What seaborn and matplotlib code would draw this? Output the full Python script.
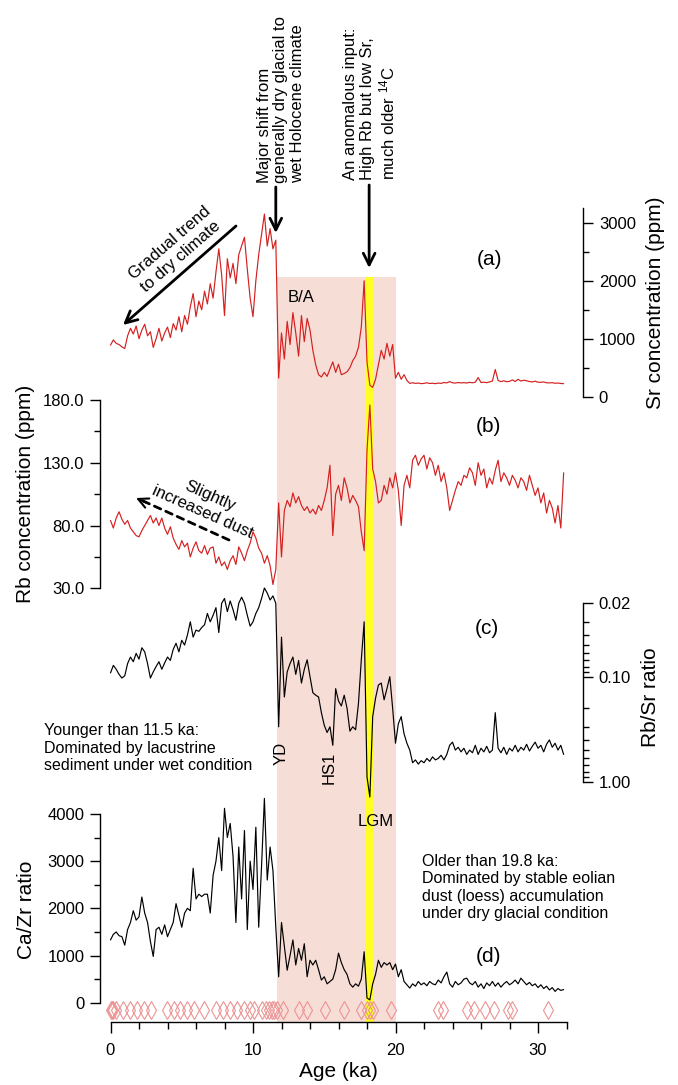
import numpy as np
import pandas as pd
import matplotlib
matplotlib.use("Agg")
import matplotlib.pyplot as plt
import seaborn as sns
from matplotlib.ticker import FixedLocator, FormatStrFormatter, NullFormatter

# ---------------- data ----------------
age = [0.0, 0.2, 0.4, 0.6, 0.8, 1.0, 1.2, 1.4, 1.6, 1.8,
       2.0, 2.2, 2.4, 2.6, 2.8, 3.0, 3.2, 3.4, 3.6, 3.8,
       4.0, 4.2, 4.4, 4.6, 4.8, 5.0, 5.2, 5.4, 5.6, 5.8,
       6.0, 6.2, 6.4, 6.6, 6.8, 7.0, 7.2, 7.4, 7.6, 7.8,
       8.0, 8.2, 8.4, 8.6, 8.8, 9.0, 9.2, 9.4, 9.6, 9.8,
       10.0, 10.2, 10.4, 10.6, 10.8, 11.0, 11.2, 11.4, 11.6, 11.8,
       12.0, 12.2, 12.4, 12.6, 12.8, 13.0, 13.2, 13.4, 13.6, 13.8,
       14.0, 14.2, 14.4, 14.6, 14.8, 15.0, 15.2, 15.4, 15.6, 15.8,
       16.0, 16.2, 16.4, 16.6, 16.8, 17.0, 17.2, 17.4, 17.6, 17.8,
       18.0, 18.2, 18.4, 18.6, 18.8, 19.0, 19.2, 19.4, 19.6, 19.8,
       20.0, 20.2, 20.4, 20.6, 20.8, 21.0, 21.2, 21.4, 21.6, 21.8,
       22.0, 22.2, 22.4, 22.6, 22.8, 23.0, 23.2, 23.4, 23.6, 23.8,
       24.0, 24.2, 24.4, 24.6, 24.8, 25.0, 25.2, 25.4, 25.6, 25.8,
       26.0, 26.2, 26.4, 26.6, 26.8, 27.0, 27.2, 27.4, 27.6, 27.8,
       28.0, 28.2, 28.4, 28.6, 28.8, 29.0, 29.2, 29.4, 29.6, 29.8,
       30.0, 30.2, 30.4, 30.6, 30.8, 31.0, 31.2, 31.4, 31.6, 31.8]

sr = [890, 980, 920, 900, 860, 830, 1050, 1180, 1080, 1220,
      1000, 1150, 1250, 1050, 1120, 850, 1000, 1180, 960, 1100,
      1200, 1020, 1260, 1150, 1380, 1120, 1400, 1250, 1550, 1780,
      1380, 1650, 1500, 1820, 1600, 1950, 1700, 2150, 2550, 2100,
      1400, 2380, 2050, 2300, 1950, 2450, 2600, 2750, 2200, 1700,
      1380, 2000, 2450, 2800, 3150, 2600, 2900, 2550, 2700, 320,
      1100, 650, 1300, 900, 1450, 1100, 700, 1400, 950, 1350,
      1150, 800, 550, 380, 340, 420, 350, 480, 600, 420,
      560, 380, 400, 430, 500, 620, 700, 850, 1200, 2000,
      600, 200, 160, 300, 550, 800, 650, 920, 700, 900,
      320, 420, 300, 380, 280, 230, 240, 230, 235, 225,
      230, 240, 228, 232, 225, 235, 230, 245, 238, 260,
      240, 235, 245, 238, 242, 236, 248, 240, 250, 330,
      245, 250, 242, 255, 270, 470, 280, 260, 275, 258,
      265, 290, 262, 300, 270, 285, 275, 262, 255, 268,
      250, 248, 255, 240, 238, 242, 232, 236, 228, 225]

rb = [84, 78, 86, 91, 85, 81, 84, 78, 75, 72,
      71, 76, 80, 84, 88, 82, 86, 80, 86, 78,
      73, 79, 70, 65, 61, 68, 63, 66, 55, 62,
      67, 60, 58, 64, 57, 62, 63, 50, 55, 48,
      51, 45, 52, 56, 49, 63, 58, 52, 60, 66,
      75, 70, 62, 58, 50, 56, 48, 33, 45, 98,
      55, 92, 100, 95, 106, 98, 103, 96, 92, 95,
      90, 93, 89, 96, 92, 100, 110, 128, 72, 105,
      112, 100, 118, 110, 98, 104, 100, 95, 75, 60,
      140, 176, 125, 115, 98, 100, 112, 105, 118, 110,
      122, 108, 80, 112, 120, 110, 132, 136, 128, 133,
      136, 125, 134, 130, 120, 128, 115, 122, 110, 92,
      100, 108, 115, 112, 120, 118, 126, 122, 112, 130,
      120, 125, 110, 118, 113, 124, 132, 115, 122, 118,
      112, 120, 116, 110, 118, 115, 108, 120, 112, 104,
      110, 98, 106, 90, 100, 94, 82, 96, 78, 122]

rbsr = [0.092, 0.078, 0.085, 0.095, 0.103, 0.098, 0.075, 0.065, 0.072, 0.060,
        0.068, 0.053, 0.058, 0.075, 0.103, 0.090, 0.080, 0.072, 0.085, 0.074,
        0.065, 0.070, 0.055, 0.048, 0.058, 0.045, 0.050, 0.040, 0.030, 0.042,
        0.036, 0.037, 0.034, 0.032, 0.025, 0.030, 0.026, 0.022, 0.038, 0.020,
        0.018, 0.024, 0.019, 0.023, 0.029, 0.020, 0.0175, 0.020, 0.026, 0.033,
        0.030, 0.025, 0.022, 0.018, 0.0143, 0.016, 0.0186, 0.017, 0.020, 0.30,
        0.042, 0.156, 0.090, 0.075, 0.065, 0.095, 0.070, 0.115, 0.085, 0.069,
        0.100, 0.142, 0.150, 0.156, 0.22, 0.29, 0.34, 0.30, 0.45, 0.13,
        0.17, 0.19, 0.15, 0.20, 0.33, 0.30, 0.32, 0.18, 0.069, 0.030,
        0.90, 1.40, 0.24, 0.16, 0.12, 0.115, 0.166, 0.13, 0.10, 0.20,
        0.43, 0.28, 0.24, 0.35, 0.43, 0.50, 0.66, 0.62, 0.68, 0.63,
        0.66, 0.60, 0.64, 0.58, 0.62, 0.60, 0.56, 0.62, 0.55, 0.45,
        0.42, 0.50, 0.47, 0.52, 0.48, 0.55, 0.50, 0.53, 0.45, 0.55,
        0.48, 0.52, 0.46, 0.53, 0.50, 0.22, 0.48, 0.53, 0.47, 0.55,
        0.48, 0.51, 0.45, 0.52, 0.47, 0.50, 0.44, 0.51, 0.46, 0.42,
        0.48, 0.45, 0.52, 0.44, 0.40, 0.47, 0.43, 0.50, 0.45, 0.55]

cazr = [1330, 1450, 1500, 1420, 1400, 1220, 1550, 1700, 1950, 1750,
        1820, 2240, 1900, 1700, 1300, 980, 1550, 1600, 1450, 1650,
        1400, 1550, 1700, 2100, 1850, 1600, 1900, 2000, 1950, 2850,
        2200, 2300, 2250, 2300, 2300, 1900, 2700, 3000, 3500, 2800,
        4120, 3500, 3800, 3100, 1700, 3300, 2200, 3650, 1550, 3000,
        2400, 3720, 1600, 2900, 4330, 2600, 3300, 2800, 1600, 550,
        1700, 1200, 690, 1000, 1330, 800, 1150, 900, 1250, 550,
        900, 800, 900, 700, 480, 550, 400, 450, 500, 700,
        1050, 850, 700, 600, 400, 330, 400, 350, 500, 1080,
        100, 60, 400, 600, 900, 750, 850, 800, 850, 700,
        820, 550, 700, 450, 380, 310, 400, 350, 450, 380,
        420, 360, 450, 400, 380, 480, 420, 550, 650, 400,
        330, 450, 380, 420, 500, 520, 420, 380, 450, 330,
        400, 300, 420, 360, 450, 350, 420, 330, 400, 450,
        380, 420, 480, 400, 520, 450, 380, 430, 360, 400,
        320, 380, 300, 350, 270, 320, 240, 300, 260, 280]

date_ages = [0.0, 0.1, 0.19, 0.42, 0.89, 1.36, 1.87, 2.34, 2.81, 3.98,
             4.45, 4.91, 5.38, 5.85, 6.55, 7.4, 7.9, 8.4, 8.9, 9.4,
             9.8, 10.1, 10.6, 10.9, 11.1, 11.3, 11.5, 11.7, 12.1, 13.2,
             13.8, 15.05, 16.4, 17.6, 17.98, 18.2, 18.4, 19.7, 23.0, 23.35,
             25.0, 25.5, 26.3, 26.9, 27.9, 28.2, 30.7]

sr_major = [0, 1000, 2000, 3000]
sr_minor = [500, 1500, 2500]
rb_major = [30, 80, 130, 180]
rb_minor = [55, 105, 155]
rbsr_major = [0.02, 0.10, 1.00]
rbsr_minor = [0.03, 0.04, 0.05, 0.06, 0.07, 0.08, 0.09,
              0.2, 0.3, 0.4, 0.5, 0.6, 0.7, 0.8, 0.9]
cazr_major = [0, 1000, 2000, 3000, 4000]
cazr_minor = [500, 1500, 2500, 3500]
age_major = [0, 10, 20, 30]
age_minor = [2, 4, 6, 8, 12, 14, 16, 18, 22, 24, 26, 28, 32]

holocene_start, glacial_end = 11.67, 20.0
lgm_start, lgm_end = 17.9, 18.4

assert len(age) == len(sr) == len(rb) == len(rbsr) == len(cazr)

# ---------------- style ----------------
sns.set_theme(style="ticks")
plt.rcParams["font.family"] = ["Liberation Sans", "DejaVu Sans"]
plt.rcParams.update({
    "mathtext.fontset": "custom",
    "mathtext.rm": "Liberation Sans",
    "mathtext.it": "Liberation Sans:italic",
    "axes.edgecolor": "black",
    "xtick.color": "black",
    "ytick.color": "black",
    "text.color": "black",
    "axes.labelcolor": "black",
    "axes.linewidth": 1.0,
})

W, H = 678, 1085
X0, X1 = 110.5, 566.5
RED = "#d42020"
PINK = "#f6ddd6"
YELLOW = "#ffff26"
DIAM = "#ec9494"

fig = plt.figure(figsize=(W / 100, H / 100), dpi=100)
fig.patch.set_facecolor("white")


def rect(top, bot, x0=X0, x1=X1):
    return [x0 / W, 1 - bot / H, (x1 - x0) / W, (bot - top) / H]


def fx(px):
    return px / W


def fy(py):
    return 1 - py / H


def bare(ax):
    ax.set_facecolor("none")
    for s in ax.spines.values():
        s.set_visible(False)
    ax.tick_params(which="both", left=False, right=False, bottom=False, top=False,
                   labelleft=False, labelright=False, labelbottom=False, labeltop=False)
    ax.set_xlim(0, 32)
    ax.set_xlabel("")
    ax.set_ylabel("")


def style_y(ax, side, major, minor, fmt=None):
    sp = ax.spines[side]
    sp.set_visible(True)
    sp.set_linewidth(1.0)
    kw = {side: True, "label" + side: True}
    ax.tick_params(axis="y", which="both", direction="out", width=1.0, **kw)
    ax.tick_params(axis="y", which="major", length=7.2, labelsize=12, pad=4)
    ax.tick_params(axis="y", which="minor", length=4.6)
    ax.yaxis.set_major_locator(FixedLocator(major))
    ax.yaxis.set_minor_locator(FixedLocator(minor))
    ax.yaxis.set_minor_formatter(NullFormatter())
    if fmt:
        ax.yaxis.set_major_formatter(FormatStrFormatter(fmt))


df = pd.DataFrame({"age": age, "sr": sr, "rb": rb, "rbsr": rbsr, "cazr": cazr})

# ---------------- background shading ----------------
ax_bg = fig.add_axes(rect(276.7, 1022))
bare(ax_bg)
ax_bg.set_ylim(0, 1)
ax_bg.axvspan(holocene_start, glacial_end, color=PINK, lw=0, zorder=0)
ax_bg.axvspan(lgm_start, lgm_end, color=YELLOW, lw=0, zorder=1)

# ---------------- (a) Sr ----------------
ax_a = fig.add_axes(rect(208.3, 396.7))
sns.lineplot(data=df, x="age", y="sr", ax=ax_a, color=RED, lw=0.85,
             estimator=None, sort=False, clip_on=False)
bare(ax_a)
ax_a.set_ylim(0, 3250)
style_y(ax_a, "right", sr_major, sr_minor)
ax_a.spines["right"].set_position(("outward", 12.1))
ax_a.set_ylabel("Sr concentration (ppm)", fontsize=15)
ax_a.yaxis.set_label_position("right")
ax_a.yaxis.set_label_coords(fx(646), fy(302.5), transform=fig.transFigure)

# ---------------- (b) Rb ----------------
ax_b = fig.add_axes(rect(400, 588.3))
sns.lineplot(data=df, x="age", y="rb", ax=ax_b, color=RED, lw=0.85,
             estimator=None, sort=False, clip_on=False)
bare(ax_b)
ax_b.set_ylim(30, 180)
style_y(ax_b, "left", rb_major, rb_minor, "%.1f")
ax_b.spines["left"].set_position(("outward", 7.6))
ax_b.set_ylabel("Rb concentration (ppm)", fontsize=15)
ax_b.yaxis.set_label_coords(fx(35), fy(494), transform=fig.transFigure)

# ---------------- (c) Rb/Sr ----------------
ax_c = fig.add_axes(rect(603.3, 781.7))
sns.lineplot(data=df, x="age", y="rbsr", ax=ax_c, color="black", lw=0.85,
             estimator=None, sort=False, clip_on=False)
bare(ax_c)
ax_c.set_yscale("log")
ax_c.set_ylim(1.0, 0.02)
style_y(ax_c, "right", rbsr_major, rbsr_minor, "%.2f")
ax_c.spines["right"].set_position(("outward", 12.1))
ax_c.set_ylabel("Rb/Sr ratio", fontsize=15)
ax_c.yaxis.set_label_position("right")
ax_c.yaxis.set_label_coords(fx(641), fy(697), transform=fig.transFigure)

# ---------------- (d) Ca/Zr ----------------
ax_d = fig.add_axes(rect(814, 1022))
sns.lineplot(data=df, x="age", y="cazr", ax=ax_d, color="black", lw=0.85,
             estimator=None, sort=False, clip_on=False)
bare(ax_d)
ax_d.set_ylim(-409, 4000)
style_y(ax_d, "left", cazr_major, cazr_minor)
ax_d.spines["left"].set_position(("outward", 7.6))
ax_d.spines["left"].set_bounds(0, 4000)
ax_d.set_ylabel("Ca/Zr ratio", fontsize=15)
ax_d.yaxis.set_label_coords(fx(36), fy(910), transform=fig.transFigure)
ax_d.spines["bottom"].set_visible(True)
ax_d.spines["bottom"].set_bounds(0, 32)
ax_d.tick_params(axis="x", which="both", bottom=True, labelbottom=True,
                 direction="out", width=1.0)
ax_d.tick_params(axis="x", which="major", length=8, labelsize=12, pad=7)
ax_d.tick_params(axis="x", which="minor", length=5)
ax_d.xaxis.set_major_locator(FixedLocator(age_major))
ax_d.xaxis.set_minor_locator(FixedLocator(age_minor))
ax_d.xaxis.set_minor_formatter(NullFormatter())
ax_d.set_xlabel("Age (ka)", fontsize=15)
ax_d.xaxis.set_label_coords(fx(338.5), fy(1062), transform=fig.transFigure)

# ---------------- dating control points ----------------
ax_t = fig.add_axes(rect(1000, 1020))
sns.lineplot(x=date_ages, y=np.zeros(len(date_ages)), ax=ax_t, estimator=None,
             sort=False, linestyle="none", marker="d", markersize=9,
             markerfacecolor="none", markeredgecolor=DIAM, markeredgewidth=0.8,
             clip_on=False)
bare(ax_t)
ax_t.set_ylim(-1, 1)

# ---------------- annotations ----------------
TXT = 12
TXT_H = 11.5
fig.text(fx(489), fy(259), "(a)", fontsize=15, ha="center", va="center")
fig.text(fx(488), fy(427), "(b)", fontsize=15, ha="center", va="center")
fig.text(fx(487), fy(628), "(c)", fontsize=15, ha="center", va="center")
fig.text(fx(488), fy(957), "(d)", fontsize=15, ha="center", va="center")

fig.text(fx(281), fy(183), "Major shift from\ngenerally dry glacial to\nwet Holocene climate",
         rotation=90, ha="center", va="bottom", multialignment="left",
         fontsize=TXT, linespacing=1.15)
fig.text(fx(370), fy(180), "An anomalous input:\nHigh Rb but low Sr,\nmuch older $\\mathregular{^{14}}$C",
         rotation=90, ha="center", va="bottom", multialignment="left",
         fontsize=TXT, linespacing=1.15)

arrow_kw = dict(arrowstyle="->,head_length=0.6,head_width=0.3", lw=2, color="black",
                shrinkA=0, shrinkB=0, mutation_scale=14)
ax_bg.annotate("", xy=(11.6, fy(233)), xytext=(11.6, fy(187)),
               xycoords=("data", "figure fraction"), textcoords=("data", "figure fraction"),
               arrowprops=arrow_kw, annotation_clip=False)
ax_bg.annotate("", xy=(18.15, fy(268)), xytext=(18.15, fy(185)),
               xycoords=("data", "figure fraction"), textcoords=("data", "figure fraction"),
               arrowprops=arrow_kw, annotation_clip=False)

fig.text(fx(175), fy(250), "Gradual trend\nto dry climate", rotation=41,
         ha="center", va="center", multialignment="center", fontsize=TXT,
         rotation_mode="anchor")
ax_bg.annotate("", xy=(fx(123), fy(325)), xytext=(fx(236), fy(226)),
               xycoords="figure fraction", textcoords="figure fraction",
               arrowprops=arrow_kw, annotation_clip=False)

fig.text(fx(301), fy(298), "B/A", fontsize=TXT, ha="center", va="center")

fig.text(fx(206), fy(504), "Slightly\nincreased dust", rotation=-24,
         ha="center", va="center", multialignment="center", fontsize=TXT,
         rotation_mode="anchor")
ax_bg.annotate("", xy=(fx(142), fy(500.5)), xytext=(fx(229), fy(540)),
               xycoords="figure fraction", textcoords="figure fraction",
               arrowprops=dict(arrowstyle="-", lw=2, color="black", linestyle=(0, (2.5, 2)),
                               shrinkA=0, shrinkB=0), annotation_clip=False)
ax_bg.annotate("", xy=(fx(136), fy(498)), xytext=(fx(146), fy(502.5)),
               xycoords="figure fraction", textcoords="figure fraction",
               arrowprops=dict(arrowstyle="->,head_length=0.6,head_width=0.3", lw=1.5,
                               color="black", shrinkA=0, shrinkB=0, mutation_scale=12),
               annotation_clip=False)

fig.text(fx(44.5), fy(748), "Younger than 11.5 ka:\nDominated by lacustrine\nsediment under wet condition",
         ha="left", va="center", fontsize=TXT_H, linespacing=1.2)
fig.text(fx(281), fy(753), "YD", rotation=90, ha="center", va="center", fontsize=TXT)
fig.text(fx(329), fy(768), "HS1", rotation=90, ha="center", va="center", fontsize=TXT)
fig.text(fx(376), fy(822), "LGM", ha="center", va="center", fontsize=TXT)
fig.text(fx(421.7), fy(887.5),
         "Older than 19.8 ka:\nDominated by stable eolian\ndust (loess) accumulation\nunder dry glacial condition",
         ha="left", va="center", fontsize=TXT_H, linespacing=1.2)

fig.savefig("out.png", dpi=100)
